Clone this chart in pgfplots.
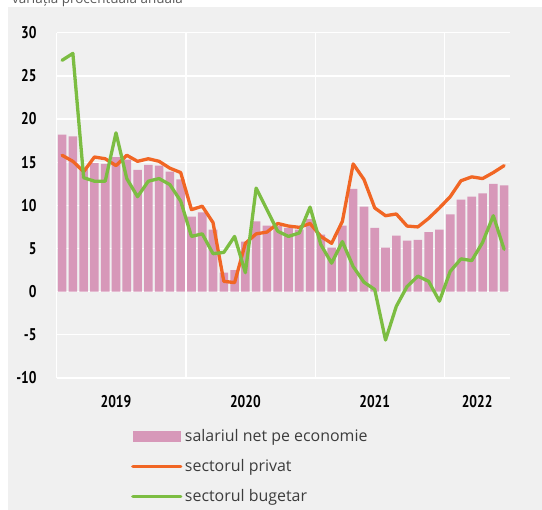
\documentclass[border=0pt]{standalone}
\usepackage{fontspec}
\setmainfont{Open Sans}
\newfontfamily\tickfont[FakeStretch=0.8]{PT Sans}
\usepackage{pgfplots}
\pgfplotsset{compat=1.18}
\definecolor{bg}{RGB}{240,240,240}
\definecolor{pinkc}{RGB}{215,152,185}
\definecolor{orangec}{RGB}{241,102,36}
\definecolor{greenc}{RGB}{124,189,66}
\definecolor{legtext}{RGB}{60,60,60}
\definecolor{titlec}{RGB}{90,90,90}
\begin{document}
\begin{tikzpicture}
\useasboundingbox (0,0) rectangle (542bp,510bp);
\fill[bg] (8bp,0) rectangle (542bp,503bp);
\node[anchor=base west, inner sep=0pt, font=\fontsize{13.5}{15}\selectfont, text=titlec] at (12bp,506bp) {variația procentuală anuală};
\begin{axis}[
  at={(56.7bp,132bp)}, anchor=south west,
  scale only axis, width=452.8bp, height=345.3bp,
  xmin=0, xmax=42, ymin=-10, ymax=30,
  axis line style={draw=none},
  axis background/.style={fill=bg},
  xtick={5.5,17.5,29.5,39},
  xticklabels={2019,2020,2021,2022},
  extra x ticks={0,12,24,36},
  extra x tick labels={},
  extra x tick style={grid=major, major grid style={white, line width=1.3bp}},
  ytick={-10,-5,0,5,10,15,20,25,30},
  yticklabels={-10,-5,0,5,10,15,20,25,30},
  ymajorgrids, major grid style={white, line width=1.3bp},
  major tick length=0pt,
  xticklabel style={font=\tickfont\bfseries\fontsize{17}{19}\selectfont, inner sep=0pt, anchor=north, yshift=-17bp},
  yticklabel style={font=\tickfont\bfseries\fontsize{17}{19}\selectfont, inner sep=0pt, anchor=east, xshift=-20bp},
  legend style={at={(rel axis cs:0.164,-0.141)}, anchor=north west, draw=none, fill=none,
    font=\fontsize{16}{18}\selectfont\color{legtext}, row sep=11.5bp, inner sep=0pt,
    nodes={inner sep=2.5bp}},
  legend cell align=left,
  clip=false,
]
\addplot[ybar, bar width=8.6bp, fill=pinkc, draw=none,
  legend image code/.code={\fill[pinkc] (0bp,-5.5bp) rectangle (48bp,5.5bp);}]
coordinates {
(0.5,18.2)(1.5,18.0)(2.5,14.4)(3.5,14.9)(4.5,14.8)(5.5,15.6)(6.5,15.3)(7.5,14.1)
(8.5,14.7)(9.5,14.6)(10.5,13.9)(11.5,13.0)(12.5,8.7)(13.5,9.2)(14.5,7.2)(15.5,2.2)
(16.5,2.5)(17.5,5.8)(18.5,8.15)(19.5,7.65)(20.5,7.6)(21.5,7.4)(22.5,7.2)(23.5,8.4)
(24.5,6.6)(25.5,5.1)(26.5,7.65)(27.5,11.9)(28.5,9.85)(29.5,7.4)(30.5,5.1)(31.5,6.5)
(32.5,5.9)(33.5,6.0)(34.5,6.9)(35.5,7.2)(36.5,8.95)(37.5,10.65)(38.5,11.0)(39.5,11.4)
(40.5,12.5)(41.5,12.3)
};
\addlegendentry{salariul net pe economie}
\addplot[orangec, line width=3.3bp, line join=round, line cap=round, mark=none,
  legend image code/.code={\draw[orangec, line width=3.3bp, line cap=round] (0bp,0) -- (48bp,0);}]
coordinates {
(0.5,15.8)(1.5,15.1)(2.5,13.9)(3.5,15.6)(4.5,15.4)(5.5,14.6)(6.5,15.8)(7.5,15.1)
(8.5,15.4)(9.5,15.1)(10.5,14.3)(11.5,13.8)(12.5,9.5)(13.5,9.9)(14.5,8.0)(15.5,1.2)
(16.5,1.05)(17.5,5.6)(18.5,6.7)(19.5,6.9)(20.5,7.9)(21.5,7.6)(22.5,7.45)(23.5,7.9)
(24.5,6.4)(25.5,5.6)(26.5,8.15)(27.5,14.8)(28.5,13.0)(29.5,9.7)(30.5,8.8)(31.5,9.0)
(32.5,7.6)(33.5,7.5)(34.5,8.5)(35.5,9.7)(36.5,11.0)(37.5,12.85)(38.5,13.3)(39.5,13.1)
(40.5,13.8)(41.5,14.6)
};
\addlegendentry{sectorul privat}
\addplot[greenc, line width=3.3bp, line join=round, line cap=round, mark=none,
  legend image code/.code={\draw[greenc, line width=3.3bp, line cap=round] (0bp,0) -- (48bp,0);}]
coordinates {
(0.5,26.8)(1.5,27.6)(2.5,13.2)(3.5,12.8)(4.5,12.8)(5.5,18.4)(6.5,13.1)(7.5,11.0)
(8.5,12.8)(9.5,13.1)(10.5,12.4)(11.5,10.5)(12.5,6.4)(13.5,6.7)(14.5,4.4)(15.5,4.55)
(16.5,6.4)(17.5,2.2)(18.5,12.0)(19.5,9.5)(20.5,7.0)(21.5,6.4)(22.5,6.8)(23.5,9.8)
(24.5,5.45)(25.5,3.3)(26.5,5.8)(27.5,2.9)(28.5,1.1)(29.5,0.25)(30.5,-5.6)(31.5,-1.7)
(32.5,0.6)(33.5,1.8)(34.5,1.2)(35.5,-1.1)(36.5,2.35)(37.5,3.8)(38.5,3.6)(39.5,5.7)
(40.5,8.8)(41.5,4.9)
};
\addlegendentry{sectorul bugetar}
\end{axis}
\end{tikzpicture}
\end{document}
